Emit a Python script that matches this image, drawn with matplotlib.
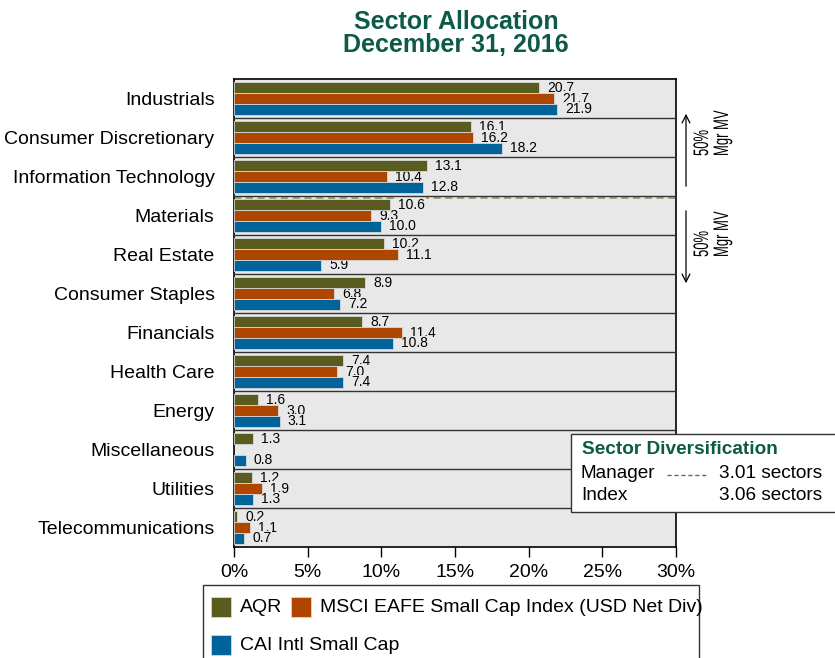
import numpy as np
import matplotlib
matplotlib.use('Agg')
from matplotlib import pyplot as plt
from matplotlib.patches import Rectangle, FancyArrowPatch, PathPatch
from matplotlib.lines import Line2D
from matplotlib.textpath import TextPath
from matplotlib.font_manager import FontProperties
from matplotlib.transforms import Affine2D

# 行业配置数据（%）
sectors = ['Industrials', 'Consumer Discretionary', 'Information Technology',
           'Materials', 'Real Estate', 'Consumer Staples', 'Financials',
           'Health Care', 'Energy', 'Miscellaneous', 'Utilities',
           'Telecommunications']
aqr = [20.7, 16.1, 13.1, 10.6, 10.2, 8.9, 8.7, 7.4, 1.6, 1.3, 1.2, 0.2]
msci = [21.7, 16.2, 10.4, 9.3, 11.1, 6.8, 11.4, 7.0, 3.0, None, 1.9, 1.1]
cai = [21.9, 18.2, 12.8, 10.0, 5.9, 7.2, 10.8, 7.4, 3.1, 0.8, 1.3, 0.7]
series_names = ['AQR', 'MSCI EAFE Small Cap Index (USD Net Div)', 'CAI Intl Small Cap']
colors = ['#5A5C1F', '#AE4600', '#00649A']
xticks = [0, 5, 10, 15, 20, 25, 30]
manager_div = 3.01
index_div = 3.06

green = '#0D5A46'
plt.rcParams['font.family'] = ['Liberation Sans', 'DejaVu Sans']

W, H = 835, 658
fig = plt.figure(figsize=(W / 100, H / 100), dpi=100)


def fx(px):
    return px / W


def fy(py):
    return 1 - py / H


ax = fig.add_axes([fx(234), fy(547), (676 - 234) / W, (547 - 79) / H])
ax.set_facecolor('#E8E8E8')

pos = np.arange(len(sectors))
bh = 0.28
for k, vals in enumerate([aqr, msci, cai]):
    for i, v in enumerate(vals):
        if v is None:
            continue
        y = pos[i] + (k - 1) * bh
        ax.barh(y, v, height=bh, color=colors[k], edgecolor='#D8D8D8',
                linewidth=0.6, zorder=3)
        # 标签底色压在虚线上，但位于柱子之下
        ax.text(v + 0.55, y, f'{v:.1f}', va='center', ha='left', fontsize=10,
                zorder=2.8, bbox=dict(facecolor='#E8E8E8', edgecolor='none', pad=0.3))

# 分组分隔线
for b in pos[:-1] + 0.5:
    ax.axhline(b, color='#333333', lw=1.0, zorder=4.5)
# 经理人50%市值分界线
ax.plot([0, 30.3], [2.56, 2.56], ls=(0, (4, 2.5)), color='#9A9A72', lw=1.3,
        zorder=2.5, clip_on=False)

ax.set_xlim(0, 30)
ax.set_ylim(len(sectors) - 0.5, -0.5)
ax.set_yticks(pos)
ax.set_yticklabels(sectors, fontsize=14)
ax.tick_params(axis='y', length=0, pad=14)
ax.set_xticks(xticks)
ax.set_xticklabels([f'{t}%' for t in xticks], fontsize=14)
ax.tick_params(axis='x', length=7, width=1, pad=5, direction='out')
for s in ax.spines.values():
    s.set_linewidth(1.2)
    s.set_color('black')

fig.text(fx(456), fy(22), 'Sector Allocation', ha='center', va='center',
         fontsize=18, fontweight='bold', color=green)
fig.text(fx(456), fy(45), 'December 31, 2016', ha='center', va='center',
         fontsize=18, fontweight='bold', color=green)

# 右侧箭头说明
fig.add_artist(FancyArrowPatch((fx(686), fy(189)), (fx(686), fy(111)),
                               arrowstyle='->', mutation_scale=14, lw=0.9,
                               color='black', transform=fig.transFigure))
fig.add_artist(FancyArrowPatch((fx(686), fy(208)), (fx(686), fy(286)),
                               arrowstyle='->', mutation_scale=14, lw=0.9,
                               color='black', transform=fig.transFigure))

# 竖排压缩文字：用TextPath横向压缩后旋转90度
fp = FontProperties(family='Liberation Sans')


def narrow_vtext(s, base_x, start_y, size=21, squeeze=0.62):
    tp = TextPath((0, 0), s, size=size, prop=fp)
    tr = Affine2D().scale(squeeze, 1).rotate_deg(90).translate(base_x, H - start_y)
    fig.add_artist(PathPatch(tp, transform=tr, facecolor='black',
                             edgecolor='none', lw=0))


for start in [156, 257]:
    narrow_vtext('50%', 708, start)
    narrow_vtext('Mgr MV', 728, start)

# 行业分散度框
fig.add_artist(Rectangle((fx(571), fy(512)), fx(270), (512 - 434) / H,
                         transform=fig.transFigure, facecolor='white',
                         edgecolor='#333333', lw=1.0, clip_on=False, zorder=5))
fig.text(fx(582), fy(450), 'Sector Diversification', fontsize=13.7,
         fontweight='bold', color=green, va='center', zorder=6)
fig.text(fx(581), fy(474), 'Manager', fontsize=13.7, va='center', zorder=6)
fig.text(fx(581), fy(496), 'Index', fontsize=13.7, va='center', zorder=6)
fig.add_artist(Line2D([fx(667), fx(708)], [fy(475), fy(475)], ls=(0, (3, 2)),
                      color='#6B6B3A', lw=1.0, transform=fig.transFigure, zorder=6))
fig.text(fx(719), fy(474), f'{manager_div:.2f} sectors', fontsize=13.7,
         va='center', zorder=6)
fig.text(fx(719), fy(496), f'{index_div:.2f} sectors', fontsize=13.7,
         va='center', zorder=6)

# 图例（第一行两项，第二行一项）
fig.add_artist(Rectangle((fx(203), fy(670)), (699 - 203) / W, (670 - 585) / H,
                         transform=fig.transFigure, facecolor='white',
                         edgecolor='#333333', lw=1.0, clip_on=False, zorder=5))
legend_items = [(series_names[0], colors[0], 211, 607),
                (series_names[1], colors[1], 291, 607),
                (series_names[2], colors[2], 211, 645)]
for name, c, lx, ly in legend_items:
    fig.add_artist(Rectangle((fx(lx), fy(ly + 10)), 20 / W, 20 / H,
                             transform=fig.transFigure, facecolor=c,
                             edgecolor='#D8D8D8', lw=0.6, zorder=6))
    fig.text(fx(lx + 29), fy(ly), name, fontsize=14, va='center', zorder=6)

plt.savefig('out.png', dpi=100)
